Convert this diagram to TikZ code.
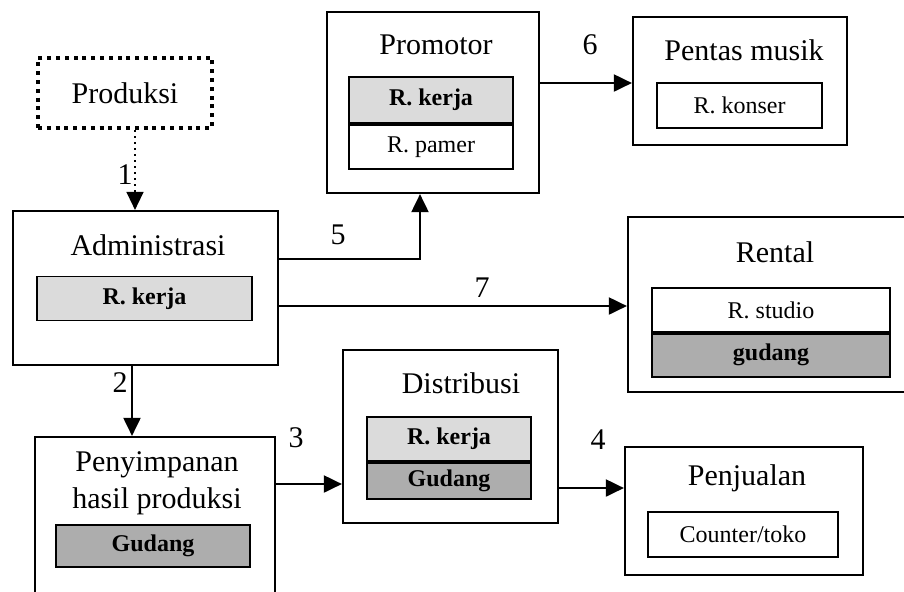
\documentclass[tikz,border=0pt]{standalone}
\usepackage{fontspec}
\setmainfont{Liberation Serif}
\usetikzlibrary{arrows.meta,positioning}

\begin{document}
\begin{tikzpicture}[x=0.5pt, y=-0.5pt, thick]
    % Styles
    \tikzstyle{dept} = [rectangle, draw, line width=1.1pt, inner sep=0pt]
    \tikzstyle{dept_plan} = [rectangle, draw, line width=2pt, dash pattern=on 2pt off 2.4pt, inner sep=0pt]
    \tikzstyle{dept_name} = [font=\fontsize{15}{18.5}\selectfont, align=center, inner sep=0pt]
    \tikzstyle{room} = [rectangle, draw, line width=0.9pt, inner sep=0pt, minimum height=22pt, font=\fontsize{12}{14}\selectfont]
    \tikzstyle{room_work} = [room, fill=black!14, font=\fontsize{12}{14}\selectfont\bfseries]
    \tikzstyle{room_store} = [room, fill=black!32, font=\fontsize{12}{14}\selectfont\bfseries]
    \tikzstyle{arrow} = [-{Triangle[length=9pt, width=8.5pt]}, line width=1pt]
    \tikzstyle{step_no} = [font=\fontsize{15}{18}\selectfont, inner sep=0pt]

    \useasboundingbox (0,0) rectangle (904,591);

    % Units
    \node [dept_plan, minimum width=87pt, minimum height=35pt] (prod) at (125,93) {};
    \node [dept, minimum width=132.5pt, minimum height=77pt] (adm) at (145.5,288) {};
    \node [dept, minimum width=120pt, minimum height=78pt] (simpan) at (155,515) {};
    \node [dept, minimum width=107.5pt, minimum height=86.5pt] (dist) at (450.5,436.5) {};
    \node [dept, minimum width=119pt, minimum height=64pt] (jual) at (744,511) {};
    \node [dept, minimum width=150pt, minimum height=87.5pt] (rent) at (778,304.5) {};
    \node [dept, minimum width=106pt, minimum height=90.5pt] (prom) at (433,102.5) {};
    \node [dept, minimum width=107pt, minimum height=64pt] (pentas) at (740,81) {};

    % Names
    \node [dept_name] at (125,93) {Produksi};
    \node [dept_name] at (148,245) {Administrasi};
    \node [dept_name] at (157,483.5) {Penyimpanan\\hasil produksi};
    \node [dept_name] at (461,383) {Distribusi};
    \node [dept_name] at (747,478) {Penjualan};
    \node [dept_name] at (775,252) {Rental};
    \node [dept_name] at (436,45) {Promotor};
    \node [dept_name] at (744,50) {Pentas musik};

    % Rooms
    \node [room_work, minimum width=107.5pt] (admkerja) at (144.5,298.5) {R. kerja};
    \node [room_store, minimum width=97pt, minimum height=21pt] (simpangud) at (153,546) {Gudang};
    \node [room_work, minimum width=82pt] (distkerja) at (449,439) {R. kerja};
    \node [room_store, minimum width=82pt, minimum height=18pt, below=0pt of distkerja] (distgud) {Gudang};
    \node [room, minimum width=95pt, minimum height=22.5pt] (counter) at (743,534.5) {Counter/toko};
    \node [room, minimum width=119pt] (studio) at (771,310) {R. studio};
    \node [room_store, minimum width=119pt, minimum height=21.5pt, below=0pt of studio] (rentgud) {gudang};
    \node [room_work, minimum width=82pt, minimum height=23pt] (promkerja) at (431,100) {R. kerja};
    \node [room, minimum width=82pt, below=0pt of promkerja] (pamer) {R. pamer};
    \node [room, minimum width=82.5pt, minimum height=22.5pt] (konser) at (739.5,105.5) {R. konser};

    % Flows
    \draw [arrow, dotted, line width=0.7pt] ([xshift=5pt]prod.south) -- ([xshift=5pt]prod.south |- adm.north);
    \draw [arrow] ([xshift=-6.75pt]adm.south) -- ([xshift=-6.75pt]adm.south |- simpan.north);
    \draw [arrow] ([yshift=15.5pt]simpan.east) -- ([yshift=15.5pt]simpan.east -| dist.west);
    \draw [arrow] ([yshift=-25.75pt]dist.east) -- ([yshift=-25.75pt]dist.east -| jual.west);
    \draw [arrow] ([yshift=14.5pt]adm.east) -| ([xshift=-6.5pt]prom.south);
    \draw [arrow] ([yshift=9.75pt]prom.east) -- ([yshift=9.75pt]prom.east -| pentas.west);
    \draw [arrow] ([yshift=-9pt]adm.east) -- ([yshift=-9pt]adm.east -| rent.west);

    % Step numbers
    \node [step_no] at (125,175) {1};
    \node [step_no] at (120,383) {2};
    \node [step_no] at (296,438) {3};
    \node [step_no] at (598,440) {4};
    \node [step_no] at (338,235) {5};
    \node [step_no] at (590,45) {6};
    \node [step_no] at (482,288) {7};

\end{tikzpicture}
\end{document}
